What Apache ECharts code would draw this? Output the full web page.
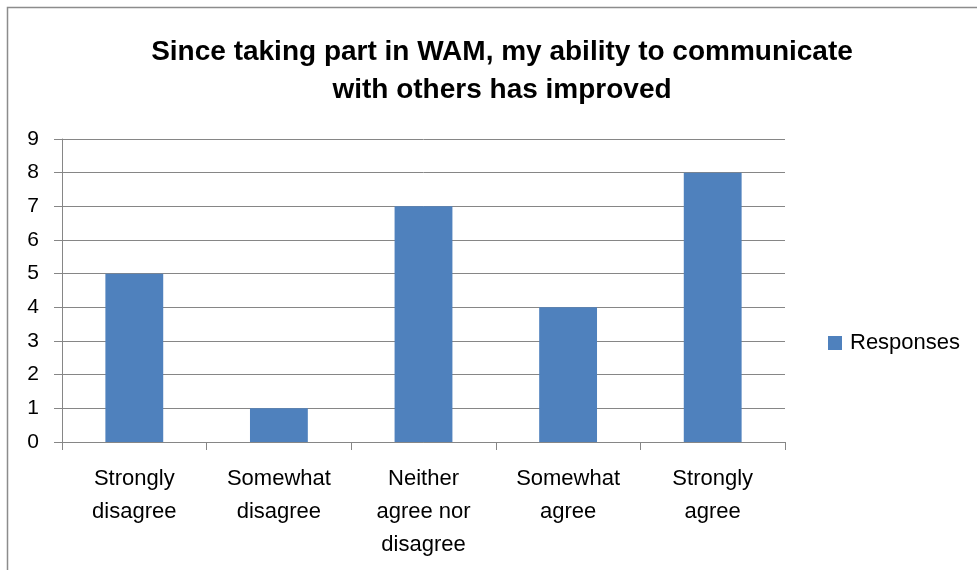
<!DOCTYPE html>
<html>
<head>
<meta charset="utf-8">
<style>
  html, body { margin: 0; padding: 0; background: #fff; }
  #chart { width: 977px; height: 570px; }
</style>
<script src="https://cdn.jsdelivr.net/npm/echarts@6/dist/echarts.min.js"></script>
</head>
<body>
<div id="chart"></div>
<script>
// Survey responses per answer option
const categories = ['Strongly\ndisagree', 'Somewhat\ndisagree', 'Neither\nagree nor\ndisagree', 'Somewhat\nagree', 'Strongly\nagree'];
const responses = [5, 1, 7, 4, 8];
const seriesName = 'Responses';
const titleText = 'Since taking part in WAM, my ability to communicate\nwith others has improved';

const FONT = '"Liberation Sans", "DejaVu Sans", sans-serif';
const GRAY = '#868686';

const chart = echarts.init(document.getElementById('chart'));
chart.setOption({
  animation: false,
  backgroundColor: '#fff',
  graphic: [{
    type: 'rect',
    shape: { x: 7.5, y: 7.5, width: 1200, height: 1200 },
    style: { fill: 'none', stroke: '#8c8c8c', lineWidth: 1.5 },
    silent: true
  }],
  title: {
    text: titleText,
    left: 497,
    textAlign: 'center',
    top: 28,
    textStyle: {
      fontFamily: FONT,
      fontWeight: 'bold',
      fontSize: 28,
      lineHeight: 38,
      color: '#000'
    }
  },
  legend: {
    data: [seriesName],
    orient: 'vertical',
    left: 823,
    top: 327,
    itemWidth: 14,
    itemHeight: 14,
    itemGap: 8,
    icon: 'rect',
    textStyle: { fontFamily: FONT, fontSize: 22, color: '#000', padding: [0, 0, 0, 3] }
  },
  grid: { left: 62, right: 192, top: 139, bottom: 128 },
  xAxis: {
    type: 'category',
    data: categories,
    axisLine: { lineStyle: { color: GRAY, width: 1 } },
    axisTick: { show: true, length: 8, alignWithLabel: false, lineStyle: { color: GRAY } },
    axisLabel: {
      fontFamily: FONT, fontSize: 22, color: '#000', lineHeight: 33,
      margin: 20, interval: 0
    }
  },
  yAxis: {
    type: 'value',
    min: 0,
    max: 9,
    interval: 1,
    axisLine: { show: true, lineStyle: { color: GRAY, width: 1 } },
    axisTick: { show: true, length: 8, lineStyle: { color: GRAY } },
    splitLine: { show: true, lineStyle: { color: GRAY, width: 1 } },
    axisLabel: { fontFamily: FONT, fontSize: 21, color: '#000', margin: 23 }
  },
  series: [{
    name: seriesName,
    type: 'bar',
    data: responses,
    barCategoryGap: '60%',
    itemStyle: { color: '#4F81BD' }
  }]
});
</script>
</body>
</html>
